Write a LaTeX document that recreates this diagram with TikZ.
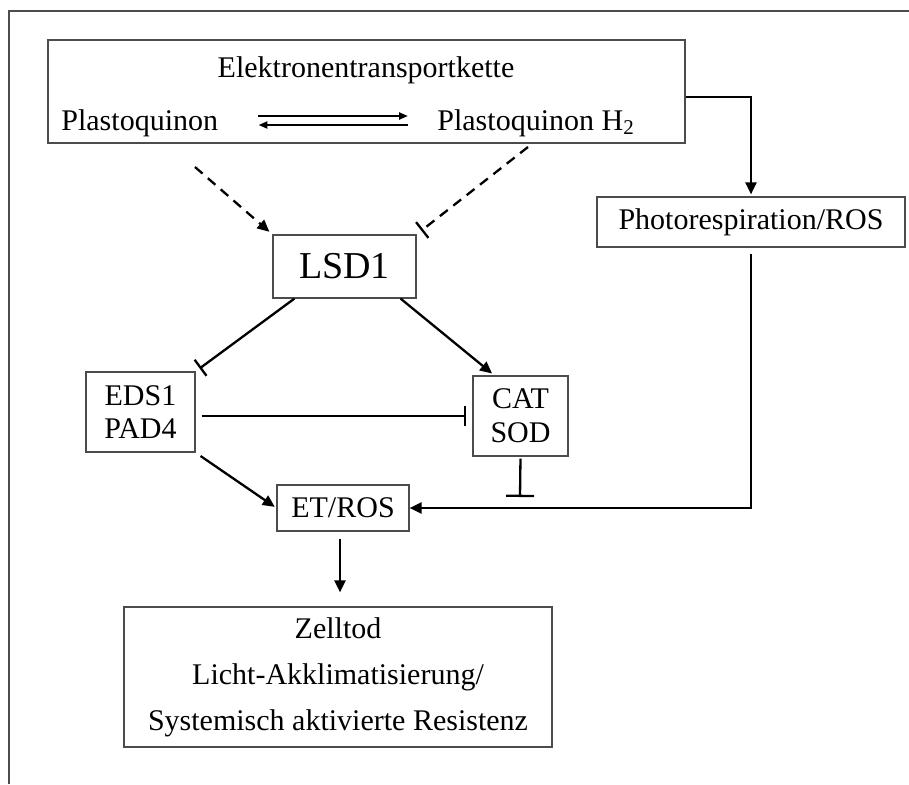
\documentclass[tikz,border=0pt]{standalone}
\usepackage{fontspec}
\setmainfont{Liberation Serif}
\usetikzlibrary{arrows.meta}

\definecolor{framegray}{gray}{0.3}

\tikzset{
  box/.style={draw=framegray, line width=0.6pt, inner sep=0pt, align=center},
  txt/.style={inner sep=0pt},
  pqtext/.style={inner sep=0pt, text height=11pt, text depth=4pt, anchor=base west},
  act/.style={line width=1.15pt, -{Triangle[length=6pt,width=5.5pt]}},
  inh/.style={line width=1.15pt, -{Bar[width=10pt,line width=1.15pt]}},
  eq/.style={line width=1.1pt, -{Triangle[length=4.5pt,width=3.5pt]}},
  dash5/.style={dash pattern=on 5pt off 3.5pt},
}

\begin{document}
\begin{tikzpicture}[x=0.5pt, y=-0.5pt, font=\fontsize{15}{17}\selectfont]
\useasboundingbox (0,0) rectangle (909,784);
% frame
\draw[framegray, line width=0.6pt] (9,784) -- (9,11) -- (909,11);

% electron transport chain
\node[box, minimum width=318.5pt, minimum height=51.5pt] (etk) at (366.5,91.5) {};
\node[txt] (etktitle) at (366,70) {Elektronentransportkette};
\node[pqtext] (pq) at (61,130) {Plastoquinon};
\node[pqtext] (pqh) at (437,130) {Plastoquinon H\textsubscript{2}};
\draw[eq] ([xshift=20pt,yshift=3.5pt]pq.east) -- ([xshift=-14.5pt,yshift=3.5pt]pqh.west);
\draw[eq] ([xshift=-14.5pt,yshift=-1pt]pqh.west) -- ([xshift=20pt,yshift=-1pt]pq.east);

% boxes
\node[box, minimum width=154pt, minimum height=25pt] (pr) at (751,222) {Photorespiration/ROS};
\node[box, minimum width=71.5pt, minimum height=31.5pt, font=\fontsize{19}{22}\selectfont] (lsd) at (344.5,266.5) {LSD1};
\node[box, minimum width=54.5pt, minimum height=40pt, font=\fontsize{15}{16.5}\selectfont] (eds) at (140.5,412) {EDS1\\PAD4};
\node[box, minimum width=47.5pt, minimum height=40pt, font=\fontsize{15}{17}\selectfont] (cat) at (520.5,416) {CAT\\SOD};
\node[box, minimum width=66pt, minimum height=23pt] (et) at (343,508) {ET/ROS};
\node[box, minimum width=214pt, minimum height=70pt, font=\fontsize{15}{23}\selectfont] (zt) at (338,677)
  {Zelltod\\Licht-Akklimatisierung/\\Systemisch aktivierte Resistenz};

% free ends
\coordinate (pqlow) at (195,167);
\coordinate (pqhlow) at (528,147);
\coordinate (catbar) at (520,497);

% connectors
\draw[act, dash5, shorten >=2pt] (pqlow) -- (lsd.north west);
\draw[inh, dash5, shorten >=3pt] (pqhlow) -- (lsd.north east);
\draw[act, shorten >=1pt] ([yshift=-2.75pt]etk.east) -| (pr.north);
\draw[inh, shorten >=2.5pt] ([xshift=11pt]lsd.south west) -- (eds.north east);
\draw[act, shorten >=1.5pt] ([xshift=-8pt]lsd.south east) -- ([xshift=11pt]cat.north west);
\draw[inh, shorten <=3pt, shorten >=3pt] (eds.east |- cat) -- (cat.west);
\draw[act, shorten <=3pt, shorten >=1pt] (eds.south east) -- (et.west);
\draw[line width=1.15pt, -{Bar[width=14pt,line width=1.15pt]}, shorten <=1pt] (cat.south) -- (catbar);
\draw[act, shorten <=3pt] (pr.south) |- (et.east);
\draw[act, shorten <=3.5pt, shorten >=7pt] ([xshift=-1.5pt]et.south) -- ([xshift=-1.5pt]et.south |- zt.north);
\end{tikzpicture}
\end{document}
